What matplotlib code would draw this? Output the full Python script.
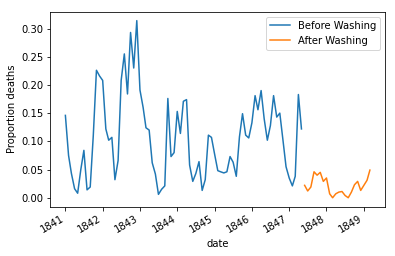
import numpy as np
import pandas as pd
import matplotlib
matplotlib.use('Agg')
import matplotlib.pyplot as plt
import matplotlib.dates as mdates

# monthly proportion of deaths
before = [0.146, 0.075, 0.043, 0.016, 0.008, 0.050, 0.084, 0.014, 0.019, 0.110, 0.226, 0.216,
          0.208, 0.122, 0.102, 0.107, 0.032, 0.066, 0.208, 0.255, 0.184, 0.293, 0.230, 0.314,
          0.191, 0.160, 0.124, 0.120, 0.062, 0.042, 0.006, 0.015, 0.021, 0.176, 0.073, 0.080,
          0.153, 0.114, 0.171, 0.174, 0.058, 0.029, 0.043, 0.064, 0.013, 0.032, 0.111, 0.107,
          0.077, 0.048, 0.046, 0.044, 0.046, 0.073, 0.063, 0.038, 0.108, 0.149, 0.111, 0.106,
          0.133, 0.181, 0.156, 0.190, 0.140, 0.102, 0.128, 0.181, 0.143, 0.150, 0.102, 0.055,
          0.035, 0.021, 0.038, 0.183, 0.122]
after = [0.022, 0.012, 0.019, 0.046, 0.040, 0.045, 0.029, 0.035, 0.007, 0.000, 0.007,
         0.010, 0.011, 0.004, 0.000, 0.010, 0.023, 0.029, 0.013, 0.022, 0.031, 0.049]

before_dates = pd.date_range('1841-01-01', periods=len(before), freq='MS')
after_dates = pd.date_range('1847-06-01', periods=len(after), freq='MS')

fig, ax = plt.subplots(figsize=[395 / 72, 256 / 72], dpi=72)
fig.subplots_adjust(left=0.127, right=0.975, bottom=0.193, top=0.954)

ax.plot(before_dates, before, label='Before Washing')
ax.plot(after_dates, after, label='After Washing')
ax.set_ylabel('Proportion deaths')
ax.set_xlabel('date')
ax.xaxis.set_major_locator(mdates.YearLocator())
ax.xaxis.set_major_formatter(mdates.DateFormatter('%Y'))
ax.yaxis.set_major_formatter(matplotlib.ticker.FormatStrFormatter('%.2f'))
for lbl in ax.get_xticklabels():
    lbl.set_rotation(30)
    lbl.set_ha('right')
ax.legend(loc='upper right')

fig.savefig('out.png')
